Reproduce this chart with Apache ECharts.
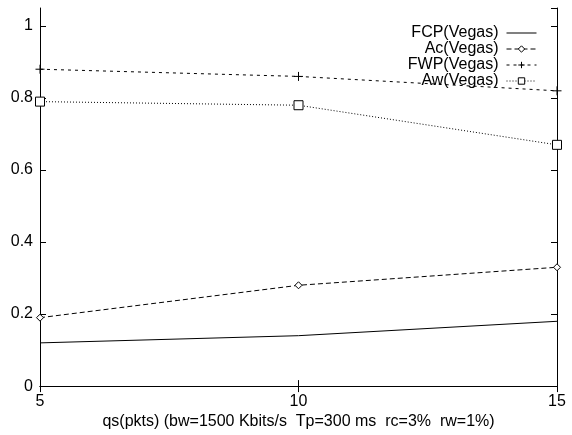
<!DOCTYPE html>
<html>
<head>
<meta charset="utf-8">
<script src="https://cdn.jsdelivr.net/npm/echarts@6/dist/echarts.min.js"></script>
<style>
  html, body { margin: 0; padding: 0; background: #fff; }
  #chart { width: 572px; height: 435px; }
</style>
</head>
<body>
<div id="chart"></div>
<script>
// Queue size values on the x axis
const qs = [5, 10, 15];

// Series values (fraction)
const fcpVegas = [0.12, 0.14, 0.18];
const acVegas  = [0.19, 0.28, 0.33];
const fwpVegas = [0.88, 0.86, 0.82];
const awVegas  = [0.79, 0.78, 0.67];

const seriesNames = ['FCP(Vegas)', 'Ac(Vegas)', 'FWP(Vegas)', 'Aw(Vegas)'];
const xTitle = 'qs(pkts) (bw=1500 Kbits/s  Tp=300 ms  rc=3%  rw=1%)';

const FONT = 'Liberation Sans, Arial, Helvetica, sans-serif';
const FS = 16;
const plusPath = 'path://M0,5 L10,5 M5,0 L5,10';
// plain horizontal stroke for the solid-line legend key
const solidKey = 'path://M0,0 L30,0 L30,1 L0,1 Z';

function pairs(ys) { return qs.map((x, i) => [x, ys[i]]); }

function lineSeries(name, ys, type, symbol, size) {
  return {
    name: name,
    type: 'line',
    data: pairs(ys),
    symbol: symbol,
    symbolSize: size,
    showSymbol: symbol !== 'none',
    xAxisIndex: 0,
    yAxisIndex: 0,
    lineStyle: { color: '#000', width: 1, type: type },
    itemStyle: { color: symbol === plusPath ? 'none' : '#fff', borderColor: '#000', borderWidth: 1 },
    emphasis: { disabled: true },
    animation: false,
    z: 3
  };
}

const chart = echarts.init(document.getElementById('chart'), null, { renderer: 'canvas' });

const axisLineBlack = { show: true, lineStyle: { color: '#000', width: 1 } };

chart.setOption({
  backgroundColor: '#fff',
  animation: false,
  grid: { left: 40, right: 15, top: 8, bottom: 46, containLabel: false },
  legend: {
    orient: 'vertical',
    right: 35,
    top: 25,
    padding: 0,
    align: 'right',
    itemWidth: 30,
    itemHeight: 8,
    itemGap: 0,
    lineStyle: { width: 1 },
    itemStyle: { borderWidth: 1 },
    textStyle: { fontFamily: FONT, fontSize: FS, lineHeight: 15, color: '#000', padding: [0, 3, 0, 0] },
    data: [
      { name: seriesNames[0], icon: solidKey, itemStyle: { color: '#000', borderWidth: 0 } },
      seriesNames[1], seriesNames[2], seriesNames[3]
    ]
  },
  xAxis: [{
    type: 'value', position: 'bottom', min: 5, max: 15, interval: 5,
    name: xTitle, nameLocation: 'middle', nameGap: 27,
    nameTextStyle: { fontFamily: FONT, fontSize: FS, color: '#000' },
    axisLine: axisLineBlack,
    axisTick: { show: true, inside: true, length: 6, lineStyle: { color: '#000' } },
    axisLabel: { fontFamily: FONT, fontSize: FS, color: '#000', margin: 7 },
    splitLine: { show: false }
  }, {
    type: 'value', position: 'top', min: 5, max: 15, interval: 5,
    axisLine: axisLineBlack,
    axisTick: { show: true, inside: true, length: 6, lineStyle: { color: '#000' } },
    axisLabel: { show: false },
    splitLine: { show: false }
  }],
  yAxis: [{
    type: 'value', position: 'left', min: 0, max: 1.05, interval: 0.2,
    axisLine: axisLineBlack,
    axisTick: { show: true, inside: true, length: 6, lineStyle: { color: '#000' } },
    axisLabel: { fontFamily: FONT, fontSize: FS, color: '#000', margin: 7, showMaxLabel: false,
      formatter: v => (Math.abs(v * 5 - Math.round(v * 5)) < 1e-6 ? String(+v.toFixed(1)) : '') },
    splitLine: { show: false }
  }, {
    type: 'value', position: 'right', min: 0, max: 1.05, interval: 0.2,
    axisLine: axisLineBlack,
    axisTick: { show: true, inside: true, length: 6, lineStyle: { color: '#000' } },
    axisLabel: { show: false },
    splitLine: { show: false }
  }],
  series: [
    lineSeries(seriesNames[0], fcpVegas, 'solid', 'none', 0),
    lineSeries(seriesNames[1], acVegas, [5, 3], 'diamond', 7),
    lineSeries(seriesNames[2], fwpVegas, [3, 4], plusPath, 9),
    lineSeries(seriesNames[3], awVegas, [1, 2], 'rect', 9)
  ]
});
</script>
</body>
</html>
